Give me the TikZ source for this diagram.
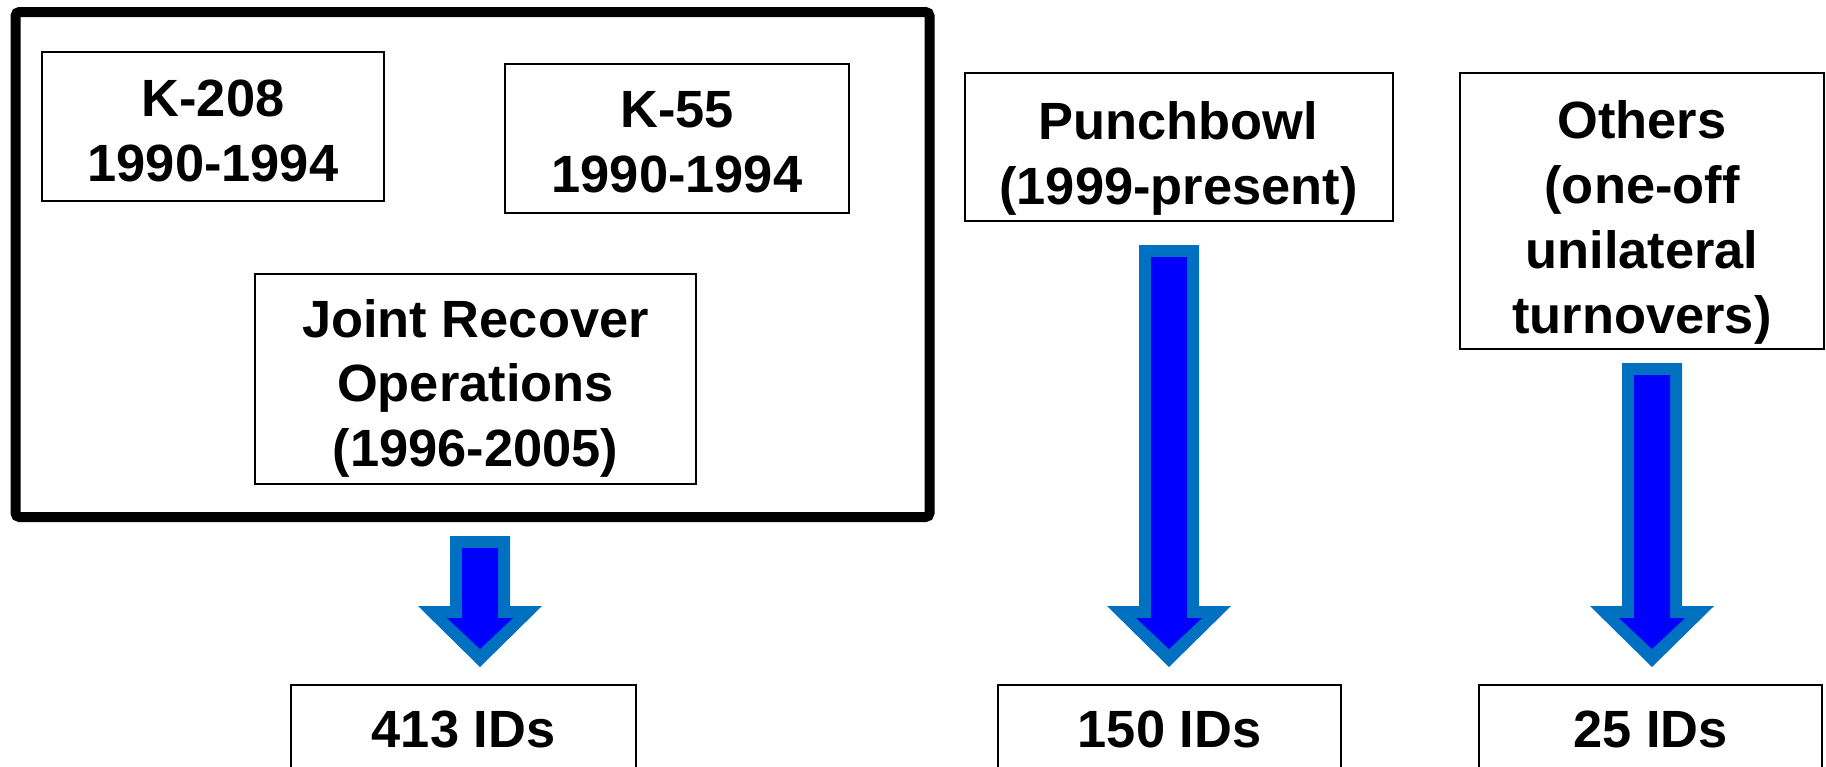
\documentclass[tikz,border=0pt]{standalone}
\usepackage{fontspec}
\setmainfont{Liberation Sans}
\usetikzlibrary{calc}
\definecolor{arrowedge}{HTML}{0070C0}
\definecolor{arrowfill}{HTML}{0000FF}
\tikzset{
  frame/.style={draw=black, line width=1pt, inner sep=0pt},
  txt/.style={align=center, inner sep=0pt, text depth=0pt,
    font=\bfseries\fontsize{26.2}{32.4}\selectfont},
  groupbox/.style={draw=black, line width=5pt, rounded corners=2pt, inner sep=0pt},
}
\newcommand\fatarrow[2]{%
  \path[fill=arrowedge] let \p1=(#1), \p2=(#2) in
    (\x1-15pt,\y1) -- (\x1-15pt,\y2+30.5pt) -- (\x1-31pt,\y2+30.5pt) -- (\x1,\y2)
    -- (\x1+31pt,\y2+30.5pt) -- (\x1+15pt,\y2+30.5pt) -- (\x1+15pt,\y1) -- cycle;
  \path[fill=arrowfill] let \p1=(#1), \p2=(#2) in
    (\x1-9pt,\y1-6pt) -- (\x1-9pt,\y2+24.5pt) -- (\x1-16.5pt,\y2+24.5pt) -- (\x1,\y2+9pt)
    -- (\x1+16.5pt,\y2+24.5pt) -- (\x1+9pt,\y2+24.5pt) -- (\x1+9pt,\y1-6pt) -- cycle;
}
\begin{document}
\begin{tikzpicture}[x=0.5pt,y=-0.5pt]
\clip (0,0) rectangle (1826,766);
\fill[white] (0,0) rectangle (1826,766);
% group frame
\node[groupbox, minimum width=457pt, minimum height=252.5pt] (group) at (472.5,264.5) {};
% source boxes
\node[frame, minimum width=171pt, minimum height=74.5pt] (k208) at (213,126.5) {};
\node[txt] (k208t) at (213,131) {K-208\\1990-1994};
\node[frame, minimum width=172pt, minimum height=74.5pt] (k55) at (677,138.5) {};
\node[txt] (k55t) at (677,142) {K-55\\1990-1994};
\node[frame, minimum width=220.5pt, minimum height=105pt] (jro) at (475.5,379) {};
\node[txt] (jrot) at (475.5,383) {Joint Recover\\Operations\\(1996-2005)};
\node[frame, minimum width=214pt, minimum height=74pt] (punch) at (1178.5,147) {};
\node[txt] (puncht) at (1178.5,153) {Punchbowl\\(1999-present)};
\node[frame, minimum width=182pt, minimum height=138pt] (others) at (1642,211) {};
\node[txt] (otherst) at (1642,217) {Others\\(one-off\\unilateral\\turnovers)};
% result boxes
\node[frame, minimum width=172.5pt, minimum height=42pt] (ids413) at (463.5,727) {};
\node[txt] (ids413t) at (463.5,729) {413 IDs};
\node[frame, minimum width=171.5pt, minimum height=42pt] (ids150) at (1169.5,727) {};
\node[txt] (ids150t) at (1169.5,729) {150 IDs};
\node[frame, minimum width=171.5pt, minimum height=42pt] (ids25) at (1650.5,727) {};
\node[txt] (ids25t) at (1650.5,729) {25 IDs};
% arrow ends
\coordinate (a1s) at (480,536);
\coordinate (a1e) at (480,667);
\coordinate (a2s) at (1169,245);
\coordinate (a2e) at (1169,667);
\coordinate (a3s) at (1652,363);
\coordinate (a3e) at (1652,667);
\fatarrow{a1s}{a1e}
\fatarrow{a2s}{a2e}
\fatarrow{a3s}{a3e}
\end{tikzpicture}
\end{document}
